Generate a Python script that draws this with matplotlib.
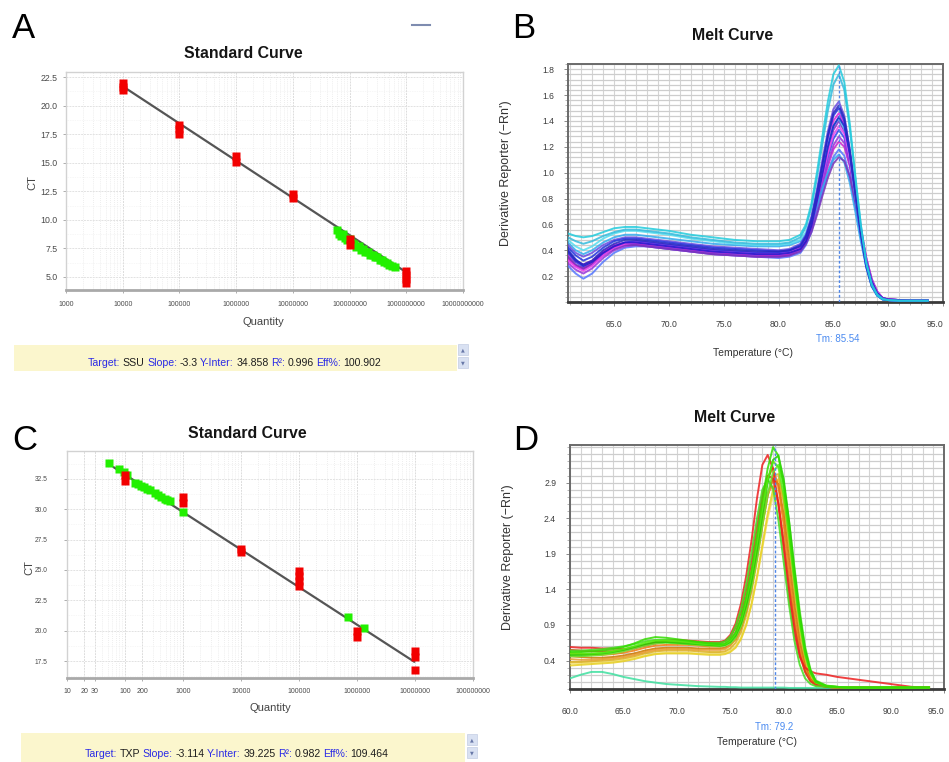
import matplotlib
matplotlib.use("Agg")
import matplotlib.pyplot as plt
from matplotlib.patches import Rectangle
from matplotlib.text import Annotation
from matplotlib.lines import Line2D
from matplotlib.ticker import MultipleLocator, LogLocator, NullFormatter

W, H = 949, 762
NARROW = ['Liberation Sans Narrow', 'Liberation Sans', 'DejaVu Sans']
SANS = ['Liberation Sans', 'DejaVu Sans']

# ======================= DATA =======================
# ---- Panel A : standard curve (SSU) ----
a_xticks = [1e3, 1e4, 1e5, 1e6, 1e7, 1e8, 1e9, 1e10]
a_yticks = [5.0, 7.5, 10.0, 12.5, 15.0, 17.5, 20.0, 22.5]
a_std_qty = [1e4, 1e4, 1e4, 1e5, 1e5, 1e5, 1e6, 1e6, 1e7, 1e7, 1e8, 1e8, 1e9, 1e9, 1e9, 1e9]
a_std_ct = [21.35, 21.65, 21.95, 17.55, 17.95, 18.35, 15.1, 15.55, 11.9, 12.25, 7.8, 8.3, 4.45, 4.8, 5.15, 5.5]
a_unk_qty = [6.0e7, 6.6e7, 7.0e7, 7.6e7, 8.2e7, 9.0e7, 1.0e8, 1.1e8, 1.2e8, 1.3e8, 1.45e8, 1.6e8, 1.75e8,
             1.9e8, 2.1e8, 2.3e8, 2.55e8, 2.8e8, 3.1e8, 3.4e8, 3.7e8, 4.1e8, 4.5e8, 5.0e8, 5.6e8, 6.3e8]
a_unk_ct = [9.1, 8.8, 8.6, 8.75, 8.4, 8.2, 8.3, 7.95, 7.85, 7.6, 7.7, 7.35, 7.4,
            7.15, 7.2, 6.95, 6.9, 6.7, 6.75, 6.5, 6.45, 6.3, 6.2, 6.05, 5.95, 5.85]
a_fit_qty = [1e4, 1e9]
a_fit_ct = [21.7, 5.4]
a_stats = [("Target:", "b"), ("SSU", "k"), ("Slope:", "b"), ("-3.3", "k"), ("Y-Inter:", "b"),
           ("34.858", "k"), ("R\u00b2:", "b"), ("0.996", "k"), ("Eff%:", "b"), ("100.902", "k")]

# ---- Panel C : standard curve (TXP) ----
c_xticks = [10, 20, 30, 100, 200, 1e3, 1e4, 1e5, 1e6, 1e7, 1e8]
c_yticks = [17.5, 20.0, 22.5, 25.0, 27.5, 30.0, 32.5]
c_std_qty = [100, 100, 1e3, 1e3, 1e4, 1e4, 1e5, 1e5, 1e5, 1e5, 1e6, 1e6, 1e7, 1e7, 1e7]
c_std_ct = [32.35, 32.85, 30.55, 31.05, 26.45, 26.7, 23.7, 24.1, 24.5, 24.9, 19.45, 20.0, 17.8, 18.35, 16.8]
c_unk_qty = [52, 80, 95, 108, 150, 170, 190, 215, 240, 265, 330, 370, 420, 480, 540, 600, 1000, 6.9e5, 1.32e6]
c_unk_ct = [33.85, 33.3, 33.1, 32.85, 32.2, 32.1, 31.95, 31.8, 31.65, 31.55, 31.3, 31.15, 31.0, 30.85,
            30.75, 30.65, 29.75, 21.1, 20.2]
c_fit_qty = [62, 1e7]
c_fit_ct = [33.5, 17.4]
c_stats = [("Target:", "b"), ("TXP", "k"), ("Slope:", "b"), ("-3.114", "k"), ("Y-Inter:", "b"),
           ("39.225", "k"), ("R\u00b2:", "b"), ("0.982", "k"), ("Eff%:", "b"), ("109.464", "k")]

# ---- Panel B : melt curve (SSU) ----
b_temp = [60.8, 61.5, 62.2, 63.0, 64.0, 65.0, 66.0, 67.0, 68.0, 69.0, 70.0, 72.0, 74.0, 76.0, 78.0, 80.0,
          81.0, 82.0, 82.5, 83.0, 83.5, 84.0, 84.5, 85.0, 85.5, 86.0, 86.5, 87.0, 87.5, 88.0, 88.5, 89.0,
          89.5, 90.0, 91.0, 92.0, 93.6]
b_tm = 85.54
b_xticks = [65.0, 70.0, 75.0, 80.0, 85.0, 90.0, 95.0]
b_yticks = [0.2, 0.4, 0.6, 0.8, 1.0, 1.2, 1.4, 1.6, 1.8]
b_colors = ['#8822CC', '#DD22DD', '#3344EE', '#CC22CC', '#5577FF', '#9933DD', '#33AAEE', '#7733BB',
            '#55DDEE', '#EE44EE', '#1A1ACC', '#6A4BE0', '#2233DD', '#2828C0', '#33BBDD', '#22CCDD']
b_curves = [
    [0.34, 0.28, 0.25, 0.29, 0.37, 0.42, 0.45, 0.45, 0.44, 0.43, 0.42, 0.40, 0.38, 0.37, 0.36, 0.36, 0.37, 0.41, 0.48, 0.60, 0.78, 0.98, 1.18, 1.33, 1.40, 1.32, 1.10, 0.81, 0.52, 0.28, 0.13, 0.05, 0.02, 0.015, 0.01, 0.01, 0.01],
    [0.36, 0.31, 0.29, 0.32, 0.39, 0.44, 0.46, 0.47, 0.46, 0.45, 0.44, 0.42, 0.40, 0.39, 0.38, 0.38, 0.39, 0.43, 0.50, 0.63, 0.83, 1.05, 1.25, 1.40, 1.46, 1.38, 1.16, 0.86, 0.56, 0.31, 0.15, 0.07, 0.03, 0.02, 0.015, 0.01, 0.01],
    [0.38, 0.31, 0.27, 0.30, 0.37, 0.43, 0.46, 0.47, 0.46, 0.45, 0.44, 0.42, 0.40, 0.39, 0.38, 0.38, 0.39, 0.42, 0.48, 0.59, 0.76, 0.95, 1.12, 1.26, 1.33, 1.27, 1.08, 0.81, 0.54, 0.31, 0.15, 0.07, 0.03, 0.02, 0.015, 0.01, 0.01],
    [0.33, 0.28, 0.26, 0.30, 0.38, 0.43, 0.45, 0.45, 0.44, 0.43, 0.42, 0.40, 0.38, 0.37, 0.36, 0.36, 0.37, 0.41, 0.47, 0.57, 0.72, 0.89, 1.05, 1.18, 1.24, 1.20, 1.05, 0.82, 0.57, 0.34, 0.17, 0.08, 0.03, 0.02, 0.015, 0.01, 0.01],
    [0.28, 0.22, 0.18, 0.22, 0.31, 0.38, 0.42, 0.43, 0.43, 0.42, 0.41, 0.39, 0.37, 0.36, 0.35, 0.34, 0.35, 0.38, 0.44, 0.54, 0.69, 0.85, 1.00, 1.12, 1.18, 1.13, 0.97, 0.74, 0.50, 0.29, 0.14, 0.06, 0.025, 0.015, 0.01, 0.01, 0.01],
    [0.30, 0.25, 0.22, 0.26, 0.34, 0.40, 0.43, 0.44, 0.43, 0.42, 0.41, 0.39, 0.37, 0.36, 0.35, 0.35, 0.36, 0.40, 0.46, 0.57, 0.73, 0.91, 1.08, 1.21, 1.28, 1.23, 1.06, 0.81, 0.55, 0.32, 0.16, 0.07, 0.03, 0.02, 0.015, 0.01, 0.01],
    [0.46, 0.40, 0.37, 0.40, 0.46, 0.50, 0.52, 0.52, 0.51, 0.50, 0.49, 0.47, 0.45, 0.44, 0.43, 0.43, 0.44, 0.47, 0.52, 0.61, 0.74, 0.88, 1.00, 1.10, 1.14, 1.08, 0.92, 0.70, 0.47, 0.27, 0.13, 0.05, 0.02, 0.015, 0.01, 0.01, 0.01],
    [0.35, 0.29, 0.26, 0.29, 0.36, 0.41, 0.44, 0.44, 0.43, 0.42, 0.41, 0.39, 0.37, 0.36, 0.35, 0.35, 0.36, 0.39, 0.45, 0.54, 0.67, 0.82, 0.96, 1.07, 1.12, 1.09, 0.97, 0.77, 0.55, 0.34, 0.18, 0.08, 0.03, 0.02, 0.015, 0.01, 0.01],
    [0.48, 0.43, 0.40, 0.43, 0.49, 0.53, 0.55, 0.55, 0.54, 0.53, 0.52, 0.49, 0.47, 0.45, 0.44, 0.44, 0.45, 0.48, 0.54, 0.65, 0.82, 1.02, 1.21, 1.36, 1.42, 1.34, 1.12, 0.82, 0.52, 0.27, 0.12, 0.05, 0.02, 0.015, 0.01, 0.01, 0.01],
    [0.32, 0.27, 0.24, 0.28, 0.36, 0.42, 0.45, 0.46, 0.45, 0.44, 0.43, 0.41, 0.39, 0.38, 0.37, 0.37, 0.38, 0.42, 0.49, 0.61, 0.78, 0.97, 1.15, 1.29, 1.36, 1.30, 1.12, 0.86, 0.58, 0.34, 0.17, 0.08, 0.03, 0.02, 0.015, 0.01, 0.01],
    [0.40, 0.33, 0.28, 0.31, 0.38, 0.43, 0.46, 0.46, 0.45, 0.44, 0.43, 0.41, 0.39, 0.38, 0.37, 0.37, 0.38, 0.41, 0.47, 0.59, 0.78, 0.99, 1.20, 1.36, 1.43, 1.36, 1.15, 0.86, 0.57, 0.32, 0.16, 0.07, 0.03, 0.02, 0.015, 0.01, 0.01],
    [0.44, 0.38, 0.35, 0.38, 0.44, 0.48, 0.50, 0.50, 0.49, 0.48, 0.47, 0.45, 0.43, 0.42, 0.41, 0.40, 0.41, 0.45, 0.52, 0.66, 0.87, 1.10, 1.32, 1.49, 1.55, 1.44, 1.18, 0.85, 0.53, 0.28, 0.13, 0.05, 0.02, 0.015, 0.01, 0.01, 0.01],
    [0.42, 0.36, 0.32, 0.35, 0.42, 0.47, 0.49, 0.49, 0.48, 0.47, 0.46, 0.44, 0.42, 0.41, 0.40, 0.39, 0.40, 0.44, 0.51, 0.64, 0.84, 1.06, 1.28, 1.44, 1.50, 1.40, 1.15, 0.83, 0.52, 0.27, 0.12, 0.05, 0.02, 0.015, 0.01, 0.01, 0.01],
    [0.39, 0.32, 0.29, 0.32, 0.40, 0.45, 0.48, 0.48, 0.47, 0.46, 0.45, 0.43, 0.41, 0.40, 0.39, 0.39, 0.40, 0.43, 0.50, 0.63, 0.83, 1.06, 1.29, 1.46, 1.52, 1.42, 1.17, 0.85, 0.54, 0.29, 0.13, 0.06, 0.025, 0.015, 0.01, 0.01, 0.01],
    [0.50, 0.47, 0.45, 0.47, 0.51, 0.54, 0.56, 0.56, 0.55, 0.54, 0.53, 0.50, 0.48, 0.46, 0.45, 0.45, 0.46, 0.50, 0.58, 0.73, 0.96, 1.22, 1.48, 1.68, 1.76, 1.64, 1.34, 0.96, 0.60, 0.31, 0.14, 0.06, 0.025, 0.015, 0.01, 0.01, 0.01],
    [0.53, 0.51, 0.50, 0.51, 0.54, 0.57, 0.58, 0.58, 0.57, 0.56, 0.55, 0.52, 0.50, 0.48, 0.47, 0.47, 0.48, 0.52, 0.60, 0.76, 1.00, 1.28, 1.55, 1.76, 1.83, 1.70, 1.38, 0.98, 0.60, 0.30, 0.13, 0.05, 0.02, 0.015, 0.01, 0.01, 0.01],
]

# ---- Panel D : melt curve (TXP) ----
d_temp = [60, 61, 62, 63, 64, 65, 66, 67, 68, 69, 70, 71, 72, 73, 74, 74.5, 75, 75.5, 76, 76.5, 77, 77.5,
          78, 78.5, 79, 79.5, 80, 80.5, 81, 81.5, 82, 82.5, 83, 84, 85, 86, 87, 88, 89, 90, 91, 92, 93.6]
d_tm = 79.2
d_xticks = [60.0, 65.0, 70.0, 75.0, 80.0, 85.0, 90.0, 95.0]
d_yticks = [0.4, 0.9, 1.4, 1.9, 2.4, 2.9]
d_colors = ['#3FE0A0', '#F2E070', '#E8D020', '#DDB020', '#CC7700', '#E89A30', '#F07A10', '#E03020',
            '#EE2020', '#66E633', '#44DD22', '#22CC00', '#55EE11', '#33DD00']
d_curves = [
    [0.15, 0.20, 0.24, 0.24, 0.21, 0.17, 0.14, 0.11, 0.09, 0.07, 0.06, 0.05, 0.04, 0.035, 0.03, 0.03, 0.025, 0.025, 0.02, 0.02, 0.02, 0.02, 0.02, 0.02, 0.02, 0.02, 0.02, 0.015, 0.015, 0.015, 0.015, 0.015, 0.015, 0.015, 0.015, 0.015, 0.015, 0.015, 0.015, 0.015, 0.015, 0.015, 0.015],
    [0.36, 0.36, 0.37, 0.38, 0.39, 0.41, 0.44, 0.47, 0.50, 0.51, 0.51, 0.51, 0.50, 0.50, 0.50, 0.51, 0.54, 0.60, 0.72, 0.92, 1.20, 1.56, 1.98, 2.40, 2.72, 2.85, 2.66, 2.16, 1.56, 0.98, 0.52, 0.23, 0.10, 0.04, 0.02, 0.02, 0.02, 0.02, 0.02, 0.02, 0.02, 0.02, 0.02],
    [0.33, 0.34, 0.35, 0.36, 0.37, 0.39, 0.42, 0.46, 0.49, 0.50, 0.50, 0.50, 0.49, 0.48, 0.48, 0.49, 0.52, 0.58, 0.70, 0.90, 1.20, 1.58, 2.02, 2.46, 2.80, 2.95, 2.70, 2.15, 1.52, 0.92, 0.46, 0.20, 0.09, 0.04, 0.02, 0.02, 0.02, 0.02, 0.02, 0.02, 0.02, 0.02, 0.02],
    [0.38, 0.38, 0.39, 0.40, 0.41, 0.43, 0.46, 0.50, 0.53, 0.54, 0.54, 0.54, 0.53, 0.52, 0.52, 0.53, 0.57, 0.65, 0.80, 1.04, 1.38, 1.80, 2.28, 2.72, 3.00, 3.02, 2.62, 2.00, 1.35, 0.78, 0.38, 0.16, 0.08, 0.03, 0.02, 0.02, 0.02, 0.02, 0.02, 0.02, 0.02, 0.02, 0.02],
    [0.46, 0.45, 0.44, 0.44, 0.45, 0.47, 0.50, 0.54, 0.57, 0.58, 0.58, 0.58, 0.57, 0.57, 0.57, 0.58, 0.62, 0.70, 0.86, 1.10, 1.44, 1.86, 2.32, 2.72, 2.95, 2.88, 2.45, 1.82, 1.18, 0.66, 0.32, 0.14, 0.07, 0.03, 0.02, 0.02, 0.02, 0.02, 0.02, 0.02, 0.02, 0.02, 0.02],
    [0.42, 0.41, 0.41, 0.42, 0.43, 0.45, 0.48, 0.52, 0.55, 0.56, 0.56, 0.56, 0.55, 0.55, 0.55, 0.56, 0.61, 0.71, 0.90, 1.18, 1.55, 1.98, 2.42, 2.76, 2.85, 2.60, 2.08, 1.48, 0.92, 0.50, 0.24, 0.11, 0.05, 0.03, 0.02, 0.02, 0.02, 0.02, 0.02, 0.02, 0.02, 0.02, 0.02],
    [0.50, 0.49, 0.48, 0.48, 0.49, 0.51, 0.54, 0.58, 0.61, 0.62, 0.62, 0.62, 0.61, 0.60, 0.60, 0.62, 0.67, 0.78, 0.98, 1.28, 1.66, 2.12, 2.60, 2.98, 3.10, 2.85, 2.30, 1.64, 1.02, 0.56, 0.27, 0.12, 0.06, 0.03, 0.02, 0.02, 0.02, 0.02, 0.02, 0.02, 0.02, 0.02, 0.02],
    [0.55, 0.54, 0.53, 0.53, 0.53, 0.54, 0.57, 0.61, 0.64, 0.66, 0.66, 0.66, 0.65, 0.65, 0.65, 0.67, 0.73, 0.86, 1.08, 1.40, 1.80, 2.28, 2.72, 3.00, 2.96, 2.62, 2.05, 1.42, 0.88, 0.48, 0.24, 0.11, 0.06, 0.03, 0.02, 0.02, 0.02, 0.02, 0.02, 0.02, 0.02, 0.02, 0.02],
    [0.59, 0.58, 0.58, 0.57, 0.57, 0.56, 0.58, 0.62, 0.66, 0.68, 0.69, 0.68, 0.67, 0.66, 0.66, 0.68, 0.76, 0.92, 1.20, 1.60, 2.10, 2.68, 3.15, 3.29, 3.10, 2.60, 1.95, 1.30, 0.78, 0.45, 0.30, 0.25, 0.22, 0.20, 0.17, 0.15, 0.13, 0.11, 0.09, 0.07, 0.05, 0.03, 0.02],
    [0.46, 0.46, 0.47, 0.48, 0.50, 0.53, 0.57, 0.61, 0.64, 0.65, 0.64, 0.63, 0.62, 0.61, 0.60, 0.61, 0.64, 0.72, 0.88, 1.12, 1.44, 1.84, 2.30, 2.74, 3.05, 3.15, 2.90, 2.36, 1.72, 1.10, 0.60, 0.28, 0.12, 0.05, 0.03, 0.02, 0.02, 0.02, 0.02, 0.02, 0.02, 0.02, 0.02],
    [0.54, 0.54, 0.55, 0.56, 0.58, 0.60, 0.63, 0.67, 0.69, 0.69, 0.68, 0.67, 0.66, 0.65, 0.65, 0.67, 0.74, 0.88, 1.12, 1.48, 1.92, 2.40, 2.80, 2.95, 2.82, 2.38, 1.78, 1.18, 0.68, 0.34, 0.15, 0.07, 0.04, 0.03, 0.02, 0.02, 0.02, 0.02, 0.02, 0.02, 0.02, 0.02, 0.02],
    [0.48, 0.48, 0.49, 0.50, 0.52, 0.55, 0.59, 0.63, 0.66, 0.66, 0.65, 0.64, 0.63, 0.62, 0.61, 0.62, 0.66, 0.75, 0.92, 1.18, 1.52, 1.95, 2.44, 2.90, 3.22, 3.28, 2.95, 2.36, 1.68, 1.05, 0.56, 0.26, 0.11, 0.04, 0.03, 0.02, 0.02, 0.02, 0.02, 0.02, 0.02, 0.02, 0.02],
    [0.50, 0.50, 0.50, 0.51, 0.53, 0.56, 0.60, 0.65, 0.68, 0.68, 0.67, 0.66, 0.64, 0.63, 0.62, 0.63, 0.68, 0.78, 0.97, 1.26, 1.62, 2.06, 2.54, 2.95, 3.20, 3.12, 2.72, 2.14, 1.50, 0.92, 0.48, 0.22, 0.09, 0.04, 0.03, 0.02, 0.02, 0.02, 0.02, 0.02, 0.02, 0.02, 0.02],
    [0.52, 0.52, 0.53, 0.54, 0.56, 0.59, 0.64, 0.70, 0.73, 0.72, 0.70, 0.68, 0.66, 0.64, 0.63, 0.64, 0.70, 0.80, 1.00, 1.30, 1.68, 2.15, 2.65, 3.10, 3.40, 3.28, 2.85, 2.25, 1.58, 0.98, 0.52, 0.24, 0.10, 0.04, 0.03, 0.02, 0.02, 0.02, 0.02, 0.02, 0.02, 0.02, 0.02],
]

# ======================= FIGURE =======================
fig = plt.figure(figsize=(W / 100, H / 100), dpi=100)
fig.patch.set_facecolor('white')


def px_axes(x0, y0, x1, y1):
    return fig.add_axes([x0 / W, 1 - y1 / H, (x1 - x0) / W, (y1 - y0) / H])


def ftext(x, y, s, **kw):
    return fig.text(x / W, 1 - y / H, s, **kw)


def std_axes(rect, xlim, ylim, xticks, yticks, ypad, xpad, ysize):
    ax = px_axes(*rect)
    ax.set_xscale('log')
    ax.set_xlim(*xlim)
    ax.set_ylim(*ylim)
    ax.set_xticks(xticks)
    ax.set_xticklabels([f'{int(t)}' for t in xticks])
    ax.xaxis.set_minor_locator(LogLocator(base=10, subs=[2, 3, 4, 5, 6, 7, 8, 9], numticks=30))
    ax.xaxis.set_minor_formatter(NullFormatter())
    ax.set_yticks(yticks)
    ax.set_yticklabels([f'{t:.1f}' for t in yticks])
    ax.yaxis.set_minor_locator(MultipleLocator(1.25))
    ax.grid(which='major', axis='x', color='#DCDCDC', lw=0.7, ls=(0, (2, 1)))
    ax.grid(which='minor', axis='x', color='#E8E8E8', lw=0.6, ls=(0, (1, 1.5)))
    ax.grid(which='major', axis='y', color='#E2E2E2', lw=0.7, ls=(0, (2, 1)))
    ax.grid(which='minor', axis='y', color='#EFEFEF', lw=0.5, ls=(0, (1, 1.5)))
    ax.set_axisbelow(True)
    for s in ['top', 'right', 'left']:
        ax.spines[s].set_color('#D2D2D2')
        ax.spines[s].set_linewidth(1.0)
    ax.spines['bottom'].set_color('#A9A9A9')
    ax.spines['bottom'].set_linewidth(2.0)
    ax.tick_params(axis='both', which='major', labelcolor='#4A4A4A', color='#A0A0A0',
                   length=2, width=0.6)
    ax.tick_params(axis='y', pad=ypad, labelsize=ysize)
    ax.tick_params(axis='x', pad=xpad, labelsize=5.0)
    ax.tick_params(which='minor', length=0)
    for lab in ax.get_xticklabels() + ax.get_yticklabels():
        lab.set_family(NARROW)
    return ax


def melt_axes(rect, xlim, ylim, xticks, yticks, ystep):
    ax = px_axes(*rect)
    ax.set_xlim(*xlim)
    ax.set_ylim(*ylim)
    ax.set_xticks(xticks)
    ax.set_xticklabels([f'{t:.1f}' for t in xticks])
    ax.set_yticks(yticks)
    ax.set_yticklabels([f'{t:.1f}' for t in yticks])
    ax.xaxis.set_minor_locator(MultipleLocator(1.0))
    ax.yaxis.set_minor_locator(MultipleLocator(ystep))
    ax.grid(which='both', axis='y', color='#CDCDCD', lw=0.9)
    ax.grid(which='both', axis='x', color='#D4D4D4', lw=0.8)
    ax.set_axisbelow(True)
    for s in ['top', 'right', 'left']:
        ax.spines[s].set_color('#6A6A6A')
        ax.spines[s].set_linewidth(1.4)
    ax.spines['bottom'].set_color('#3A3A3A')
    ax.spines['bottom'].set_linewidth(2.0)
    ax.tick_params(axis='both', which='major', labelsize=6.2, labelcolor='#3C3C3C', color='#777777',
                   length=3, width=0.6)
    ax.tick_params(axis='both', which='minor', color='#999999', length=2, width=0.5)
    ax.tick_params(axis='x', which='both', pad=10)
    ax.tick_params(axis='y', which='both', pad=7)
    labs = ax.get_xticklabels()
    for lab in labs + ax.get_yticklabels():
        lab.set_family(NARROW)
    labs[-1].set_horizontalalignment('right')   # keep the last label inside the figure edge
    return ax


def stats_bar(x0, y0, x1, y1, xt, yt, parts, btn_x, btn_y):
    fig.add_artist(Rectangle((x0 / W, 1 - y1 / H), (x1 - x0) / W, (y1 - y0) / H, transform=fig.transFigure,
                             facecolor='#FBF6CD', edgecolor='none', zorder=0))
    cmap = {'b': '#2A2AE6', 'k': '#1E1E1E'}
    t = None
    for s, c in parts:
        kw = dict(color=cmap[c], fontsize=7.6, family=NARROW, va='center', ha='left')
        if t is None:
            t = ftext(xt, yt, s, **kw)
        else:
            a = Annotation(s, xy=(1, 0.5), xycoords=t, xytext=(1.8, 0), textcoords='offset points', **kw)
            fig.add_artist(a)
            t = a
    for i, arrow in enumerate(['\u25b2', '\u25bc']):
        by = btn_y + i * 13
        fig.add_artist(Rectangle((btn_x / W, 1 - (by + 11) / H), 10 / W, 11 / H, transform=fig.transFigure,
                                 facecolor='#D9E1F2', edgecolor='#C3CDE3', lw=0.5))
        ftext(btn_x + 5, by + 5.5, arrow, fontsize=3.5, color='#6878A8', ha='center', va='center',
              family=['DejaVu Sans'])


TITLE = dict(fontsize=11.4, fontweight='bold', family=NARROW, ha='center', va='center', color='#151515')
AXLAB = dict(fontsize=8, family=NARROW, ha='center', va='center', color='#444444')

# ---------- Panel A ----------
axA = std_axes((66, 72, 463, 290), (1e3, 1e10), (3.85, 22.95), a_xticks, a_yticks, ypad=4, xpad=6, ysize=6.3)
axA.plot(a_fit_qty, a_fit_ct, color='#555555', lw=1.6, zorder=2, solid_capstyle='butt')
axA.plot(a_unk_qty, a_unk_ct, ls='none', marker='s', ms=5.6, color='#22F000', mec='none', zorder=3)
axA.plot(a_std_qty, a_std_ct, ls='none', marker='s', ms=5.6, color='#F20000', mec='none', zorder=4)
ftext(243, 54, 'Standard Curve', **TITLE)
ftext(263, 322, 'Quantity', **AXLAB)
ftext(32, 183, 'CT', rotation=90, **AXLAB)
ftext(24, 28, 'A', fontsize=25, family=SANS, ha='center', va='center', color='black')
fig.add_artist(Line2D([412 / W, 430 / W], [1 - 25 / H, 1 - 25 / H], transform=fig.transFigure,
                      color='#7E8CB0', lw=1.5))
stats_bar(14, 345, 457, 371, 88, 363, a_stats, 458, 344)

# ---------- Panel C ----------
axC = std_axes((67, 451, 473, 678), (10, 1e8), (16.1, 34.8), c_xticks, c_yticks, ypad=12, xpad=5, ysize=4.8)
axC.plot(c_fit_qty, c_fit_ct, color='#555555', lw=1.6, zorder=2, solid_capstyle='butt')
axC.plot(c_unk_qty, c_unk_ct, ls='none', marker='s', ms=5.6, color='#22F000', mec='none', zorder=3)
axC.plot(c_std_qty, c_std_ct, ls='none', marker='s', ms=5.6, color='#F20000', mec='none', zorder=4)
ftext(247, 433, 'Standard Curve', **TITLE)
ftext(270, 708, 'Quantity', **AXLAB)
ftext(29, 568, 'CT', rotation=90, **AXLAB)
ftext(25, 440, 'C', fontsize=25, family=SANS, ha='center', va='center', color='black')
stats_bar(21, 733, 465, 762, 85, 754, c_stats, 467, 734)

# ---------- Panel B ----------
axB = melt_axes((568, 64, 943, 302), (60.8, 95.0), (0.0, 1.84), b_xticks, b_yticks, 0.04)
for vals, col in zip(b_curves, b_colors):
    axB.plot(b_temp, vals, color=col, lw=1.4, alpha=0.85, zorder=3, solid_joinstyle='round')
axB.axvline(b_tm, color='#4F86E8', lw=1.0, ls=(0, (2, 1.5)), zorder=4)
ftext(733, 36, 'Melt Curve', **TITLE)
ftext(838, 339, 'Tm: 85.54', fontsize=7, family=NARROW, ha='center', va='center', color='#4A8AF0')
ftext(753, 353, 'Temperature (\u00b0C)', fontsize=7.5, family=NARROW, ha='center', va='center',
      color='#333333')
ftext(506, 173, "Derivative Reporter (\u2212Rn')", fontsize=9, family=NARROW, ha='center', va='center',
      color='#333333', rotation=90)
ftext(524, 28, 'B', fontsize=25, family=SANS, ha='center', va='center', color='black')

# ---------- Panel D ----------
axD = melt_axes((570, 445, 944, 689), (60.0, 95.0), (0.0, 3.43), d_xticks, d_yticks, 0.1)
for vals, col in zip(d_curves, d_colors):
    axD.plot(d_temp, vals, color=col, lw=1.4, alpha=0.85, zorder=3, solid_joinstyle='round')
axD.axvline(d_tm, color='#4F86E8', lw=1.0, ls=(0, (2, 1.5)), zorder=4)
ftext(735, 418, 'Melt Curve', **TITLE)
ftext(774, 727, 'Tm: 79.2', fontsize=7, family=NARROW, ha='center', va='center', color='#4A8AF0')
ftext(757, 742, 'Temperature (\u00b0C)', fontsize=7.5, family=NARROW, ha='center', va='center',
      color='#333333')
ftext(508, 557, "Derivative Reporter (\u2212Rn')", fontsize=9, family=NARROW, ha='center', va='center',
      color='#333333', rotation=90)
ftext(526, 440, 'D', fontsize=25, family=SANS, ha='center', va='center', color='black')

fig.savefig('out.png', dpi=100, facecolor='white')
